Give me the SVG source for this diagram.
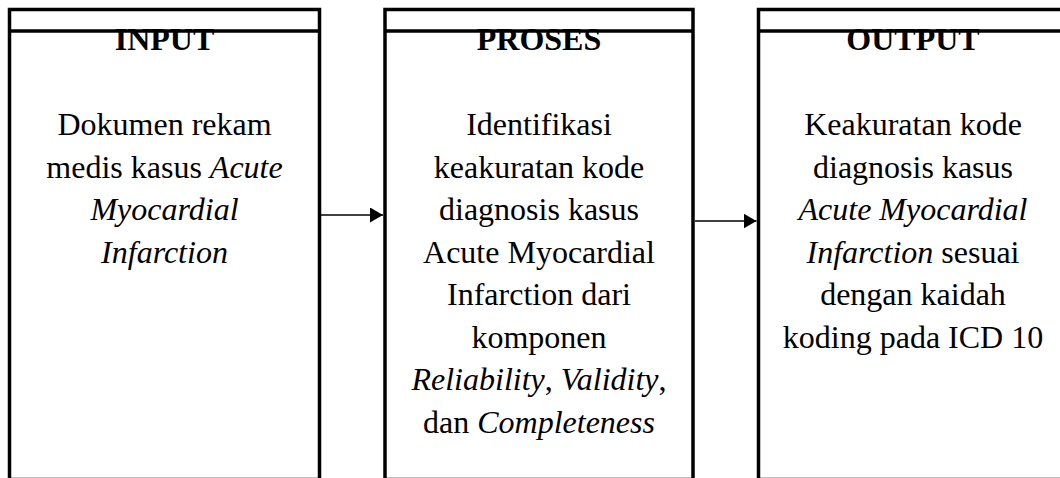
<svg xmlns="http://www.w3.org/2000/svg" width="1060" height="478" viewBox="0 0 1060 478">
<style>
.box{fill:#fff;stroke:#000;stroke-width:3.5}
.hdr{stroke:#000;stroke-width:3.5}
.t{font-family:"Liberation Serif","Times New Roman",serif;font-size:32px;fill:#000;text-anchor:middle}
.b{font-weight:bold}
.i{font-style:italic}
.c{stroke:#000;stroke-width:1.3;fill:none}
</style>
<defs>
<marker id="ah" markerUnits="userSpaceOnUse" markerWidth="14" markerHeight="16" refX="13" refY="7.5" orient="auto">
<path d="M0,0 L13,7.5 L0,15 z" fill="#000"/>
</marker>
</defs>
<rect width="1060" height="478" fill="#fff"/>
<g id="input">
<rect class="box" x="9.5" y="9.5" width="310" height="470"/>
<line class="hdr" x1="9.5" y1="31" x2="319.5" y2="31"/>
<text class="t b" x="164.5" y="50">INPUT</text>
<text class="t" x="164.5" y="135">Dokumen rekam</text>
<text class="t" x="164.5" y="177.5">medis kasus <tspan class="i">Acute</tspan></text>
<text class="t i" x="164.5" y="220">Myocardial</text>
<text class="t i" x="164.5" y="262.5">Infarction</text>
</g>
<g id="proses">
<rect class="box" x="385" y="9.5" width="308" height="470"/>
<line class="hdr" x1="385" y1="31" x2="693" y2="31"/>
<text class="t b" x="539" y="50">PROSES</text>
<text class="t" x="539" y="135">Identifikasi</text>
<text class="t" x="539" y="177.5">keakuratan kode</text>
<text class="t" x="539" y="220">diagnosis kasus</text>
<text class="t" x="539" y="262.5">Acute Myocardial</text>
<text class="t" x="539" y="305">Infarction dari</text>
<text class="t" x="539" y="347.5">komponen</text>
<text class="t" x="539" y="390"><tspan class="i">Reliability</tspan>, <tspan class="i">Validity</tspan>,</text>
<text class="t" x="539" y="432.5">dan <tspan class="i">Completeness</tspan></text>
</g>
<g id="output">
<rect class="box" x="758.5" y="9.5" width="308" height="470"/>
<line class="hdr" x1="758.5" y1="31" x2="1066.5" y2="31"/>
<text class="t b" x="913" y="50">OUTPUT</text>
<text class="t" x="913" y="135">Keakuratan kode</text>
<text class="t" x="913" y="177.5">diagnosis kasus</text>
<text class="t i" x="913" y="220">Acute Myocardial</text>
<text class="t" x="913" y="262.5"><tspan class="i">Infarction</tspan> sesuai</text>
<text class="t" x="913" y="305">dengan kaidah</text>
<text class="t" x="913" y="347.5">koding pada ICD 10</text>
</g>
<g id="connectors">
<line class="c" x1="321" y1="215" x2="383" y2="215" marker-end="url(#ah)"/>
<line class="c" x1="695" y1="221" x2="756.5" y2="221" marker-end="url(#ah)"/>
</g>
</svg>
